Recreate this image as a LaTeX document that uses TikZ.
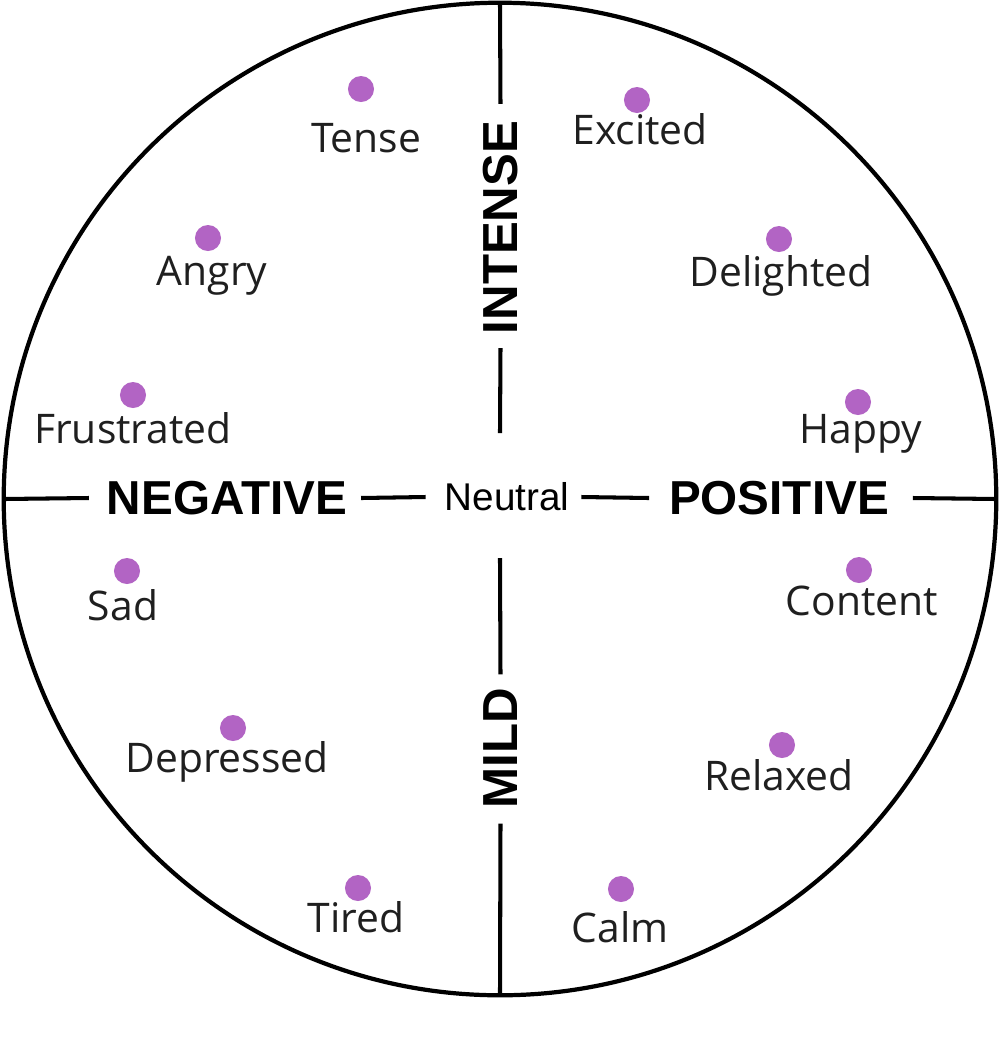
\documentclass[tikz,border=0pt]{standalone}
\usepackage{fontspec}
\setmainfont{Liberation Sans}
\newfontfamily\emofont{Open Sans}
\definecolor{dotpurple}{RGB}{178,100,196}
\tikzset{
  axislbl/.style={font=\bfseries\fontsize{13.55pt}{15pt}\selectfont, inner sep=0pt, outer sep=0pt},
  vaxislbl/.style={font=\bfseries\fontsize{14pt}{15pt}\selectfont, inner sep=0pt, outer sep=0pt, rotate=90},
  neutrallbl/.style={font=\fontsize{11pt}{12pt}\selectfont, inner sep=0pt, outer sep=0pt},
  emodot/.style={circle, fill=dotpurple, minimum size=0.26cm, inner sep=0pt},
  emolbl/.style={font=\emofont\fontsize{11.6pt}{13pt}\selectfont, anchor=base, inner sep=0pt, text=black!88},
  axisline/.style={line width=1.15pt, black},
}
\begin{document}
\begin{tikzpicture}[x=0.01cm, y=-0.01cm]
\useasboundingbox (0,0) rectangle (1000,1038);
\fill[white] (0,0) rectangle (1000,1038);
% outer circle
\node[draw, line width=1.2pt, circle, minimum size=9.92cm, inner sep=0pt, outer sep=0pt] (dial) at (500,499) {};
% axis labels
\node[axislbl] (negative) at (227,498) {NEGATIVE};
\node[neutrallbl] (neutral) at (507,497) {Neutral};
\node[axislbl] (positive) at (779,498) {POSITIVE};
\node[vaxislbl] (intense) at (500.5,227.5) {INTENSE};
\node[vaxislbl] (mild) at (500.5,748.5) {MILD};
\coordinate (iend) at (500,433);
\coordinate (mstart) at (500,558);
% axis lines
\draw[axisline] (dial.west) -- ([xshift=-0.18cm]negative.west);
\draw[axisline] ([xshift=0.14cm]negative.east) -- ([xshift=-0.19cm]neutral.west);
\draw[axisline] ([xshift=0.12cm]neutral.east) -- ([xshift=-0.20cm]positive.west);
\draw[axisline] ([xshift=0.24cm]positive.east) -- (dial.east);
\draw[axisline] (dial.north) -- ([yshift=0.17cm]intense.east);
\draw[axisline] ([yshift=-0.14cm]intense.west) -- (iend);
\draw[axisline] (mstart) -- ([yshift=0.14cm]mild.east);
\draw[axisline] ([yshift=-0.15cm]mild.west) -- (dial.south);
% emotions: name / dot x / dot y / label x / label baseline
\foreach \n/\dx/\dy/\lx/\ly in {
  Tense/361/89/366/152,
  Excited/637/100/640/144,
  Angry/208/238/212/285,
  Delighted/779/239/781/286,
  Frustrated/133/395/133/443,
  Happy/858/402/861/443,
  Sad/127/571/123/620,
  Content/859/570/862/615,
  Depressed/233/728/227/772,
  Relaxed/782/745/779/790,
  Tired/358/888/356/932,
  Calm/621/889/620/942}{
  \node[emodot] (d-\n) at (\dx,\dy) {};
  \node[emolbl] (l-\n) at (\lx,\ly) {\n};
}
\end{tikzpicture}
\end{document}
